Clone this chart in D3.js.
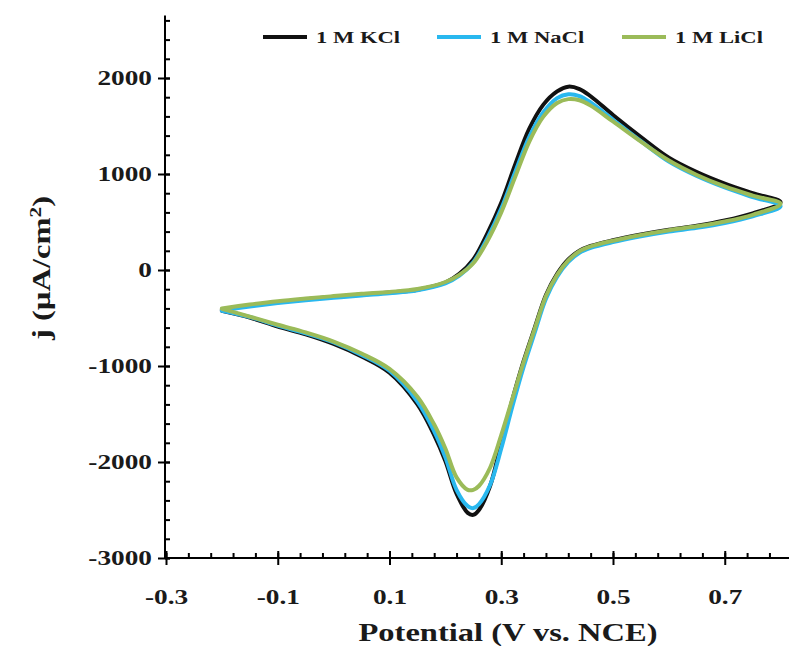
<!DOCTYPE html>
<html><head><meta charset="utf-8">
<script src="https://cdn.jsdelivr.net/npm/d3@7"></script>
<style>body{margin:0;background:#fff}svg{display:block}</style>
</head><body>
<svg id="c" width="791" height="646"></svg>
<script>
// ---- data ----
const seriesNames = ["1 M KCl", "1 M NaCl", "1 M LiCl"];
const seriesColors = ["#111111", "#29b8ef", "#9bbb59"];
// forward (anodic) sweep potentials, V
const eForward = [-0.2,-0.15,-0.1,-0.05,0,0.05,0.1,0.15,0.2,0.225,0.25,0.275,0.3,0.325,0.35,0.375,0.4,0.42,0.44,0.46,0.5,0.55,0.6,0.65,0.7,0.75,0.8];
// reverse (cathodic) sweep potentials, V
const eReverse = [0.8,0.75,0.7,0.65,0.6,0.55,0.5,0.46,0.44,0.42,0.4,0.38,0.36,0.34,0.32,0.3,0.28,0.26,0.25,0.24,0.22,0.2,0.18,0.15,0.1,0.05,0,-0.05,-0.1,-0.15,-0.2];
const kclForward  = [-410,-370,-335,-305,-280,-255,-235,-205,-130,-40,110,380,700,1100,1470,1720,1860,1910,1885,1810,1615,1385,1170,1020,900,800,705];
const naclForward = [-420,-380,-345,-315,-290,-265,-243,-212,-140,-60,80,330,640,1020,1385,1640,1790,1830,1812,1745,1565,1342,1130,980,860,760,665];
const liclForward = [-400,-360,-325,-297,-272,-248,-228,-198,-125,-50,70,300,600,970,1335,1595,1740,1780,1768,1712,1547,1337,1140,990,870,775,690];
const kclReverse  = [705,590,515,460,420,370,310,250,200,110,-40,-260,-600,-950,-1350,-1800,-2250,-2500,-2550,-2530,-2330,-1990,-1720,-1400,-1070,-900,-770,-670,-590,-495,-425];
const naclReverse = [665,560,490,440,400,350,290,230,180,85,-70,-300,-650,-1010,-1420,-1860,-2240,-2440,-2480,-2460,-2290,-1950,-1680,-1370,-1050,-885,-755,-660,-580,-490,-425];
const liclReverse = [690,575,505,455,415,365,305,245,195,100,-50,-270,-610,-960,-1340,-1720,-2060,-2250,-2290,-2290,-2160,-1860,-1610,-1320,-1030,-870,-745,-650,-570,-485,-405];
const forwardValues = [kclForward, naclForward, liclForward];
const reverseValues = [kclReverse, naclReverse, liclReverse];
const xTickValues = [-0.3,-0.1,0.1,0.3,0.5,0.7];
const yTickValues = [-3000,-2000,-1000,0,1000,2000];

// ---- chart ----
const svg = d3.select("#c");
const x = d3.scaleLinear().domain([-0.3, 0.815]).range([166, 789]);
const y = d3.scaleLinear().domain([-3000, 2650]).range([558, 15.6]);
const font = "'Liberation Serif','Times New Roman',serif";
const SX = 1.3; // horizontal stretch of the reference's lettering
const hy = s => s.replace("\u2212", "-");

// curves
const line = d3.line().x(d => x(d[0])).y(d => y(d[1])).curve(d3.curveCatmullRom.alpha(0.5));
seriesNames.forEach((name, i) => {
  const pts = eForward.map((e, k) => [e, forwardValues[i][k]])
    .concat(eReverse.slice(1).map((e, k) => [e, reverseValues[i][k + 1]]));
  svg.append("path").datum(pts).attr("d", line)
    .attr("fill", "none").attr("stroke", seriesColors[i])
    .attr("stroke-width", 4).attr("stroke-linejoin", "round").attr("stroke-linecap", "round");
});

// axes
const gx = svg.append("g").attr("transform", `translate(0,${y(-3000)})`);
gx.call(d3.axisBottom(x).tickValues(d3.range(-0.3, 0.8, 0.04).map(v => +v.toFixed(2))).tickSize(5).tickFormat(""));
gx.selectAll(".tick line").attr("y1", 0).attr("y2", -5);
gx.select(".domain").attr("d", `M${x(-0.3)},0H${x(0.815)}`);
const gxMaj = svg.append("g").attr("transform", `translate(0,${y(-3000)})`);
gxMaj.call(d3.axisBottom(x).tickValues(xTickValues).tickSize(7).tickFormat(d => hy(d3.format(".1f")(d))).tickPadding(24));
gxMaj.selectAll(".tick line").attr("y1", -7).attr("y2", 7);
gxMaj.select(".domain").remove();

const gy = svg.append("g").attr("transform", `translate(${x(-0.3) - 1},0)`);
gy.call(d3.axisRight(y).tickValues(d3.range(-3000, 2650, 200)).tickSize(5).tickFormat(""));
gy.select(".domain").attr("d", `M0,${y(2650)}V${y(-3000)}`);
const gyMaj = svg.append("g").attr("transform", `translate(${x(-0.3) - 1},0)`);
gyMaj.call(d3.axisLeft(y).tickValues(yTickValues).tickSize(7).tickFormat(d => hy(d3.format("d")(d))).tickPadding(10));
gyMaj.selectAll(".tick line").attr("x1", 5).attr("x2", -7);
gyMaj.select(".domain").remove();

svg.selectAll(".domain, .tick line").attr("stroke", "#000").attr("stroke-width", 2);
svg.selectAll(".tick text").attr("font-family", font).attr("font-weight", "bold")
  .attr("font-size", 21).attr("fill", "#1a1a1a");
gyMaj.selectAll(".tick text").attr("x", null).attr("transform", `translate(-13,0) scale(${SX},1)`);
gxMaj.selectAll(".tick text").attr("transform", `scale(${SX},1)`);

// axis titles
svg.append("text").attr("transform", `translate(508,641) scale(1.25,1)`).attr("text-anchor", "middle")
  .attr("font-family", font).attr("font-weight", "bold").attr("font-size", 26).attr("fill", "#1a1a1a")
  .text("Potential (V vs. NCE)");
const yt = svg.append("text").attr("transform", "translate(50,268) rotate(-90) scale(1.25,1)")
  .attr("text-anchor", "middle").attr("font-family", font).attr("font-weight", "bold").attr("font-size", 26)
  .attr("fill", "#1a1a1a");
yt.append("tspan").text("j (µA/cm");
yt.append("tspan").attr("dy", -9).attr("font-size", 17).text("2");
yt.append("tspan").attr("dy", 9).text(")");

// legend
const legX = [263, 437, 622];
seriesNames.forEach((name, i) => {
  svg.append("line").attr("x1", legX[i]).attr("x2", legX[i] + 44)
    .attr("y1", 37).attr("y2", 37).attr("stroke", seriesColors[i]).attr("stroke-width", 4);
  svg.append("text").attr("transform", `translate(${legX[i] + 53},43) scale(1.33,1)`)
    .attr("font-family", font).attr("font-weight", "bold").attr("font-size", 17).attr("fill", "#1a1a1a")
    .text(name);
});
</script>
</body></html>
